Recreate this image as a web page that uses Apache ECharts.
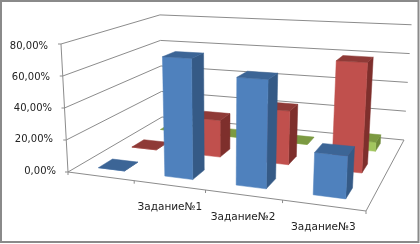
<!DOCTYPE html>
<html><head><meta charset="utf-8">
<style>html,body{margin:0;padding:0;background:#fff}#c{width:420px;height:244px}</style>
<script src="https://cdn.jsdelivr.net/npm/echarts@6/dist/echarts.min.js"></script>
</head><body><div id="c"></div>
<script>
const categories = ['', 'Задание№1', 'Задание№2', 'Задание№3'];
const yTicks = [0, 0.2, 0.4, 0.6, 0.8];
const blueValues = [0, 0.73, 0.635, 0.24];
const redValues = [0, 0.24, 0.34, 0.675];
const greenValues = [0, 0, 0, 0.06];

const G = {left: 60, top: 46, width: 293, height: 125};
const floorQuad = [[68,172],[366,211],[404,140],[162,117]];
const VP=[220,2950], FULL=128;
function quad(q){
  const [p0,p1,p2,p3]=q;
  const dx1=p1[0]-p2[0],dx2=p3[0]-p2[0],sx=p0[0]-p1[0]+p2[0]-p3[0];
  const dy1=p1[1]-p2[1],dy2=p3[1]-p2[1],sy=p0[1]-p1[1]+p2[1]-p3[1];
  const den=dx1*dy2-dx2*dy1;
  const g=(sx*dy2-dx2*sy)/den,h=(dx1*sy-sx*dy1)/den;
  const a=p1[0]-p0[0]+g*p1[0],b=p3[0]-p0[0]+h*p3[0],c=p0[0];
  const d=p1[1]-p0[1]+g*p1[1],e=p3[1]-p0[1]+h*p3[1],f=p0[1];
  return (s,t)=>{const w=g*s+h*t+1;return [(a*s+b*t+c)/w,(d*s+e*t+f)/w,w];};
}
const hFloor=quad(floorQuad);
function project(u,w,v){
  const a=hFloor(u,w);
  const k=(FULL*v/a[2])/(VP[1]-a[1]);
  return [a[0]+(a[0]-VP[0])*k,a[1]+(a[1]-VP[1])*k];
}
const N=categories.length, ROWS=3;
const BAR=0.4, DEPTH=0.4;
function barRender(row,cols){
  return function(params,api){
    const p=api.coord([api.value(0),api.value(1)]);
    const band=api.size([1,0])[0];
    const cx=(p[0]-G.left)/band/N;
    const v=(G.top+G.height-p[1])/G.height;
    const hw=BAR/2/N, hd=DEPTH/2/ROWS, wc=(row+0.5)/ROWS;
    const u0=cx-hw,u1=cx+hw,w0=wc-hd,w1=wc+hd;
    const poly=(pts,fill)=>({type:'polygon',shape:{points:pts},style:{fill:fill,stroke:fill,lineWidth:0.5}});
    return {type:'group',children:[
      poly([project(u1,w0,0),project(u1,w1,0),project(u1,w1,v),project(u1,w0,v)],cols.side),
      poly([project(u0,w0,0),project(u1,w0,0),project(u1,w0,v),project(u0,w0,v)],cols.front),
      poly([project(u0,w0,v),project(u1,w0,v),project(u1,w1,v),project(u0,w1,v)],cols.top)
    ]};
  };
}
function wallRender(params,api){
  const p=api.coord([0,api.value(1)]);
  const v=(G.top+G.height-p[1])/G.height;
  const st={stroke:'#8c8c8c',lineWidth:1,fill:null};
  const line=(a,b)=>({type:'line',shape:{x1:a[0],y1:a[1],x2:b[0],y2:b[1]},style:st});
  const a=project(0,0,v),b=project(0,1,v),c=project(1,1,v);
  const kids=[line([a[0]-3,a[1]],a),line(a,b),line(b,c)];
  if(v===0){
    kids.push(line(project(0,0,0),project(0,0,1)));
    kids.push(line(project(0,0,0),project(1,0,0)));
    kids.push(line(project(1,0,0),project(1,1,0)));
    for(let i=0;i<=N;i++){const f=project(i/N,0,0);kids.push(line(f,[f[0],f[1]+3]));}
  }
  return {type:'group',children:kids};
}
const rows=vals=>vals.map((v,i)=>[i,v]);
const chart=echarts.init(document.getElementById('c'),null,{renderer:'canvas'});
const font='"DejaVu Sans"';
const yPad=[0,3,4,6,8];
const yRich={};yPad.forEach((r,i)=>yRich['l'+i]={padding:[0,r,0,0],fontFamily:font,fontSize:10,color:'#222'});
const xPad=[[0,0,0,0],[0,0,0,0],[10,0,0,0],[20,0,0,14]];
const xRich={};xPad.forEach((r,i)=>xRich['c'+i]={padding:r,fontFamily:font,fontSize:10.5,color:'#222'});
chart.setOption({
  animation:false,
  backgroundColor:'#fff',
  graphic:[{type:'rect',shape:{x:1,y:1,width:417.5,height:241},style:{fill:null,stroke:'#8a8a8a',lineWidth:2},silent:true}],
  grid:{left:G.left,top:G.top,width:G.width,height:G.height},
  xAxis:{type:'category',data:categories,axisLine:{show:false},axisTick:{show:false},splitLine:{show:false},
    axisLabel:{interval:0,margin:31,formatter:(v,i)=>v?`{c${i}|${v}}`:'',rich:xRich}},
  yAxis:{type:'value',min:0,max:0.8,interval:0.2,axisLine:{show:false},axisTick:{show:false},splitLine:{show:false},
    axisLabel:{margin:4,formatter:v=>{const i=Math.round(v/0.2);return `{l${i}|${(v*100).toFixed(2).replace('.',',')}%}`;},rich:yRich}},
  series:[
    {type:'custom',name:'walls',silent:true,clip:false,data:yTicks.map(t=>[0,t]),encode:{x:0,y:1},renderItem:wallRender},
    {type:'custom',name:'Ряд 3',silent:true,clip:false,data:rows(greenValues),encode:{x:0,y:1},renderItem:barRender(2,{front:'#A2C65E',side:'#6F8A3A',top:'#7C9A42'})},
    {type:'custom',name:'Ряд 2',silent:true,clip:false,data:rows(redValues),encode:{x:0,y:1},renderItem:barRender(1,{front:'#C0504D',side:'#7E2F2C',top:'#8F3A37'})},
    {type:'custom',name:'Ряд 1',silent:true,clip:false,data:rows(blueValues),encode:{x:0,y:1},renderItem:barRender(0,{front:'#4F81BD',side:'#355A86',top:'#3C6596'})}
  ]
});
</script></body></html>
